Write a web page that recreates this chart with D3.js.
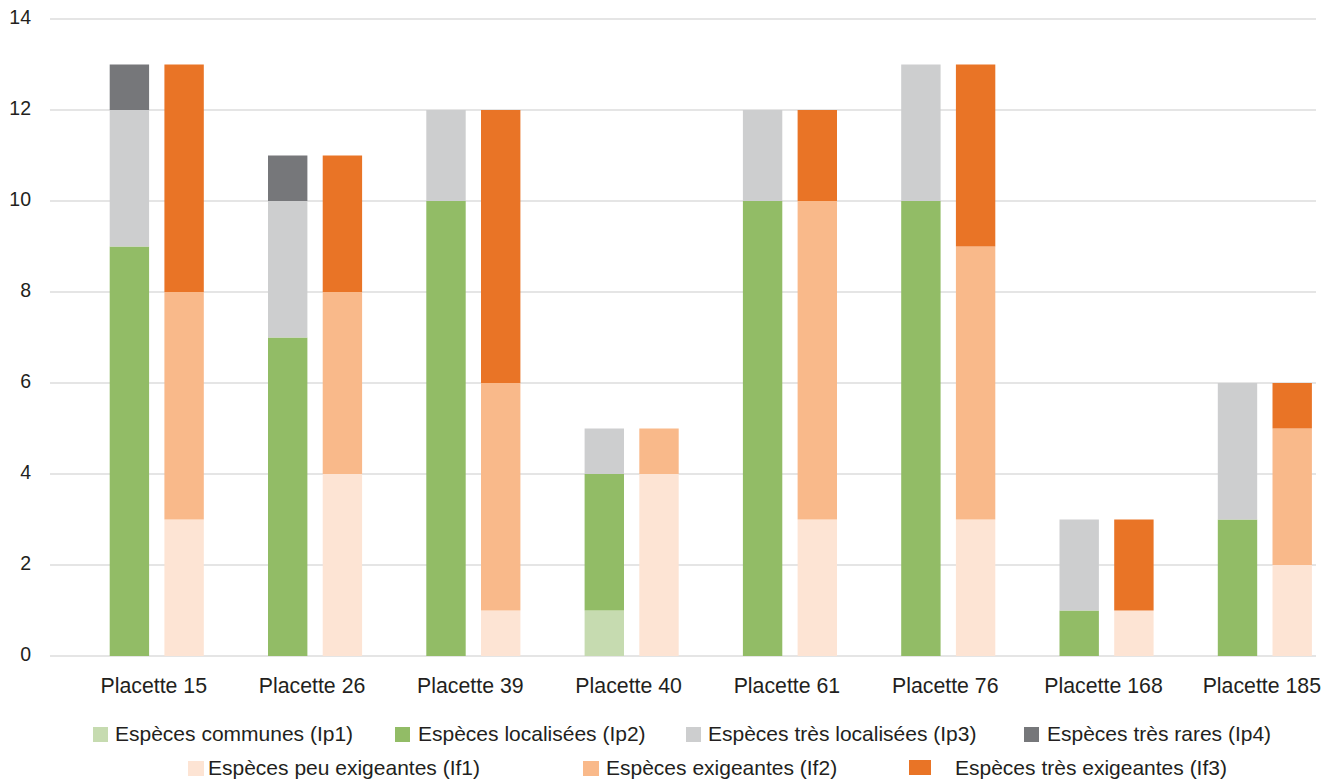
<!DOCTYPE html>
<html>
<head>
<meta charset="utf-8">
<script src="https://cdn.jsdelivr.net/npm/d3@7"></script>
<style>
  html, body { margin: 0; padding: 0; background: #fff; }
  svg text { font-family: "Liberation Sans", Arial, Helvetica, sans-serif; fill: #231f20; }
</style>
</head>
<body>
<svg id="chart" width="1337" height="780"></svg>
<script>
// Placettes (plots) on the x axis
const placettes = ["Placette 15", "Placette 26", "Placette 39", "Placette 40",
                   "Placette 61", "Placette 76", "Placette 168", "Placette 185"];

// Patrimonial indices (Ip) — number of species per class
const ip1 = [0, 0, 0, 1, 0, 0, 0, 0];
const ip2 = [9, 7, 10, 3, 10, 10, 1, 3];
const ip3 = [3, 3, 2, 1, 2, 3, 2, 3];
const ip4 = [1, 1, 0, 0, 0, 0, 0, 0];

// Functional indices (If) — number of species per class
const if1 = [3, 4, 1, 4, 3, 3, 1, 2];
const if2 = [5, 4, 5, 1, 7, 6, 0, 3];
const if3 = [5, 3, 6, 0, 2, 4, 2, 1];

const yTicks = [0, 2, 4, 6, 8, 10, 12, 14];

const ipNames = ["Espèces communes (Ip1)", "Espèces localisées (Ip2)",
                 "Espèces très localisées (Ip3)", "Espèces très rares (Ip4)"];
const ifNames = ["Espèces peu exigeantes (If1)", "Espèces exigeantes (If2)",
                 "Espèces très exigeantes (If3)"];

const ipColors = ["#c6dbb0", "#92bc66", "#cdcecf", "#76777a"];
const ifColors = ["#fde4d4", "#f9b98a", "#e97426"];

const svg = d3.select("#chart");

// Scales
const y = d3.scaleLinear().domain([0, 14]).range([656, 19]);
const x0 = d3.scaleBand().domain(placettes).range([77.6, 1344]).padding(0);
const x1 = d3.scaleBand().domain(["Ip", "If"])
  .range([32.1, x0.bandwidth() - 32.1]).paddingInner(0.28).paddingOuter(0);

// Gridlines
svg.append("g").selectAll("line").data(yTicks).join("line")
  .attr("x1", 50).attr("x2", 1316)
  .attr("y1", d => y(d)).attr("y2", d => y(d))
  .attr("stroke", "#dcdcdc").attr("stroke-width", 1.6);

// Y axis labels
const yAxis = d3.axisLeft(y).tickValues(yTicks).tickSize(0).tickPadding(0);
svg.append("g").attr("transform", "translate(31,-2)").call(yAxis)
  .call(g => g.select(".domain").remove())
  .call(g => g.selectAll("text").attr("font-size", 19.5)
    .style("font-family", "'Liberation Sans', Arial, sans-serif").attr("fill", "#231f20"));

// Stacked data
function stackRows(series, keys) {
  return placettes.map((p, i) => {
    const row = { placette: p };
    keys.forEach((k, j) => { row[k] = series[j][i]; });
    return row;
  });
}
const ipKeys = ["ip1", "ip2", "ip3", "ip4"];
const ifKeys = ["if1", "if2", "if3"];
const ipStack = d3.stack().keys(ipKeys)(stackRows([ip1, ip2, ip3, ip4], ipKeys));
const ifStack = d3.stack().keys(ifKeys)(stackRows([if1, if2, if3], ifKeys));

function drawStack(layers, colors, group) {
  svg.append("g").selectAll("g").data(layers).join("g")
    .attr("fill", (d, i) => colors[i])
    .selectAll("rect").data(d => d.filter(s => s[1] > s[0])).join("rect")
      .attr("x", d => x0(d.data.placette) + x1(group))
      .attr("width", x1.bandwidth())
      .attr("y", d => y(d[1]))
      .attr("height", d => y(d[0]) - y(d[1]));
}
drawStack(ipStack, ipColors, "Ip");
drawStack(ifStack, ifColors, "If");

// X axis labels
svg.append("g").selectAll("text").data(placettes).join("text")
  .attr("x", d => x0(d) + x0.bandwidth() / 2 - 3)
  .attr("y", 693)
  .attr("text-anchor", "middle")
  .attr("font-size", 21.3)
  .text(d => d);

// Legend
const legendLayout = [
  { name: ipNames[0], color: ipColors[0], sx: 93, sy: 727, sw: 15, tx: 115, ty: 741 },
  { name: ipNames[1], color: ipColors[1], sx: 395, sy: 727, sw: 15, tx: 418, ty: 741 },
  { name: ipNames[2], color: ipColors[2], sx: 686, sy: 727, sw: 15, tx: 708, ty: 741 },
  { name: ipNames[3], color: ipColors[3], sx: 1024, sy: 727, sw: 15, tx: 1047, ty: 741 },
  { name: ifNames[0], color: ifColors[0], sx: 188, sy: 761, sw: 16, tx: 208, ty: 775 },
  { name: ifNames[1], color: ifColors[1], sx: 583, sy: 761, sw: 16, tx: 606, ty: 775 },
  { name: ifNames[2], color: ifColors[2], sx: 909, sy: 760, sw: 22, tx: 955, ty: 775 }
];
const leg = svg.append("g").selectAll("g").data(legendLayout).join("g");
leg.append("rect")
  .attr("x", d => d.sx).attr("y", d => d.sy)
  .attr("width", d => d.sw).attr("height", 15)
  .attr("fill", d => d.color);
leg.append("text")
  .attr("x", d => d.tx).attr("y", d => d.ty)
  .attr("font-size", 21)
  .text(d => d.name);
</script>
</body>
</html>
